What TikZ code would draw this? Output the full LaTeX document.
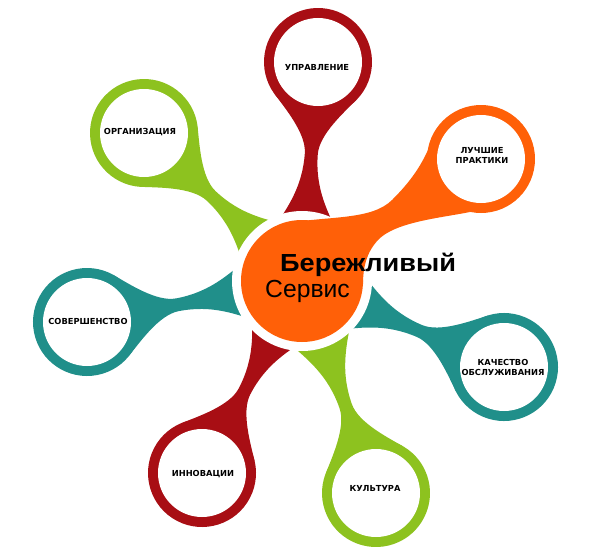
\documentclass[tikz,border=0pt]{standalone}
\usepackage{fontspec}
\setmainfont{Liberation Sans}
\newfontfamily\petalfont{DejaVu Sans}
\newfontfamily\leanfont[FakeStretch=1.1]{Liberation Sans}
\usetikzlibrary{calc}
\definecolor{redring}{RGB}{168,14,20}
\definecolor{greenring}{RGB}{141,194,31}
\definecolor{tealring}{RGB}{32,143,138}
\definecolor{orangering}{RGB}{255,96,8}

\begin{document}
\begin{tikzpicture}[x=1pt, y=-1pt,
    petal/.style={font=\petalfont\bfseries\fontsize{8.3}{10}\selectfont, align=center, inner sep=0pt}]
  \useasboundingbox (0,0) rectangle (604,551);
  \coordinate (hub) at (302,281);
  % rings and stems
  \foreach \sx/\sy/\col in {318/62/redring, 144/133/greenring, 87/322/tealring,
      504/367/tealring, 202/473/redring, 376/493/greenring} {
    \pgfmathsetmacro{\ang}{atan2(\sy-281,302-\sx)}
    \begin{scope}[shift={(\sx,\sy)}, rotate=\ang]
      \fill[\col] (0,0) circle[radius=54pt];
      \fill[\col] (35,41) .. controls (48,30) and (72,6.5) .. (92,6.5)
        .. controls (125,6.5) and (150,18) .. (195,50) -- (195,-50)
        .. controls (150,-18) and (125,-6.5) .. (92,-6.5)
        .. controls (72,-6.5) and (48,-30) .. (35,-41) -- cycle;
    \end{scope}
  }
  \fill[white] (hub) circle[radius=70pt];
  \fill[orangering] (hub) circle[radius=61pt];
  \fill[orangering] (481,159) circle[radius=54pt];
  \fill[orangering] (288,223) .. controls (330,216) and (372,220) .. (392,200)
    .. controls (405,187) and (418,172) .. (428,150) -- (470,212)
    .. controls (440,218) and (395,222) .. (378,240)
    .. controls (366,253) and (363,268) .. (363,284) -- (hub) -- cycle;
  \foreach \sx/\sy in {318/62, 144/133, 481/159, 87/322, 504/367, 202/473, 376/493}
    \fill[white] (\sx,\sy) circle[radius=44pt];
  % labels
  \foreach \nm/\lx/\ly/\txt in {upr/317/67/УПРАВЛЕНИЕ, org/140/132/ОРГАНИЗАЦИЯ,
      best/482/155/{ЛУЧШИЕ\\ПРАКТИКИ}, perf/88/321/СОВЕРШЕНСТВО,
      qual/503/367/{КАЧЕСТВО\\ОБСЛУЖИВАНИЯ}, innov/203/474/ИННОВАЦИИ,
      cult/375/488/КУЛЬТУРА}
    \node[petal] (\nm) at (\lx,\ly) {\txt};
  \node[anchor=base west, inner sep=0pt, font=\leanfont\bfseries\fontsize{24.7}{26}\selectfont] (lean) at (280,271) {Бережливый};
  \node[anchor=base west, inner sep=0pt, font=\fontsize{24.7}{26}\selectfont] (serv) at (265,297) {Сервис};
\end{tikzpicture}
\end{document}
